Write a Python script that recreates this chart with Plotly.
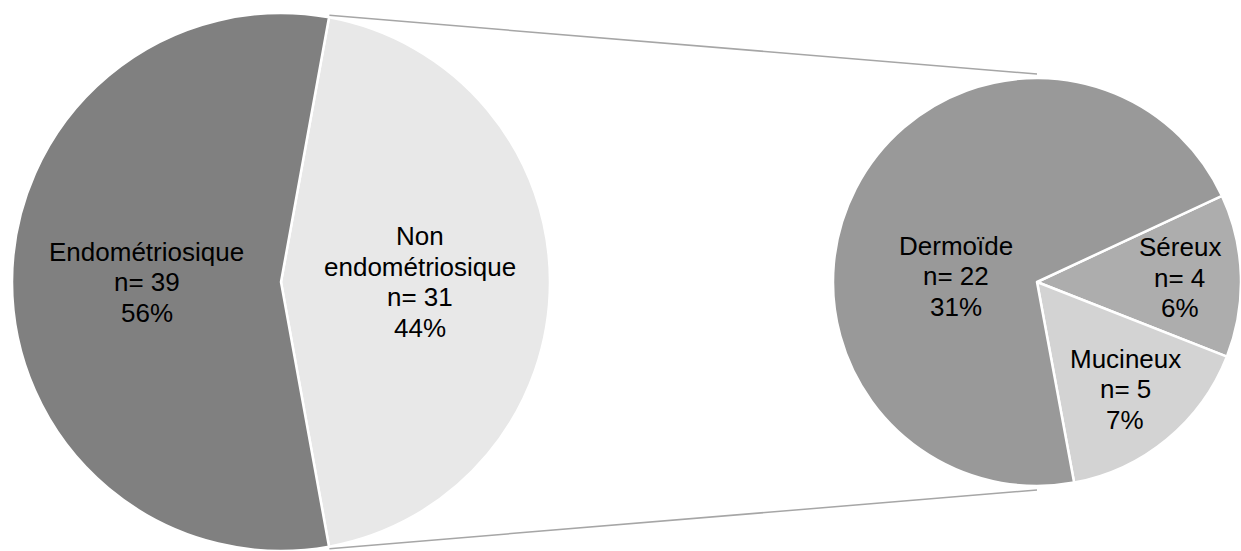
import math
import plotly.graph_objects as go

# ---------------- data ----------------
main_labels = ["Non endométriosique", "Endométriosique"]
main_text = [["Non", "endométriosique"], ["Endométriosique"]]
main_values = [31, 39]

sub_labels = ["Séreux", "Mucineux", "Dermoïde"]
sub_text = [["Séreux"], ["Mucineux"], ["Dermoïde"]]
sub_values = [4, 5, 22]

# ---------------- style ----------------
W, H = 1241, 551
main_colors = ["#e8e8e8", "#808080"]
sub_colors = ["#adadad", "#d3d3d3", "#999999"]
FONT = "Liberation Sans, Arial, sans-serif"
FSIZE = 26
LINE_H = 30.5

# pie geometry (pixels, from top-left)
L_CX, L_CY, L_R = 281, 282, 269
R_CX, R_CY, R_R = 1037, 282, 204

# label placement: radial fraction, optional angle override (deg clockwise from top)
main_label_r = [0.515, 0.50]
sub_label_r = [0.70, 0.68, 0.40]
sub_label_angle = [None, None, 274]

total = sum(main_values)
other_total = main_values[0]

# rotation: "other" slice centred on the right side
main_rot = 90 - 180 * main_values[0] / total
sub_rot = 65


def domain(cx, cy, r):
    return dict(x=[(cx - r) / W, (cx + r) / W],
                y=[(H - cy - r) / H, (H - cy + r) / H])


def pt(cx, cy, r, ang):
    a = math.radians(ang)
    return cx + r * math.sin(a), cy - r * math.cos(a)


def label_lines(x, y, lines):
    out = []
    n = len(lines)
    for i, s in enumerate(lines):
        yy = y + (i - (n - 1) / 2) * LINE_H
        out.append(dict(
            x=x / W, y=1 - yy / H, xref="paper", yref="paper", showarrow=False,
            xanchor="center", yanchor="middle", align="center", text=s,
            font=dict(family=FONT, size=FSIZE, color="black")))
    return out


fig = go.Figure()
fig.add_trace(go.Pie(
    labels=main_labels, values=main_values, sort=False, direction="clockwise",
    rotation=main_rot, domain=domain(L_CX, L_CY, L_R), textinfo="none",
    marker=dict(colors=main_colors, line=dict(color="white", width=2.5)),
    showlegend=False, hoverinfo="label+value+percent"))
fig.add_trace(go.Pie(
    labels=sub_labels, values=sub_values, sort=False, direction="clockwise",
    rotation=sub_rot, domain=domain(R_CX, R_CY, R_R), textinfo="none",
    marker=dict(colors=sub_colors, line=dict(color="white", width=2.5)),
    showlegend=False, hoverinfo="label+value"))

annotations = []
# main labels
start = main_rot
for i, v in enumerate(main_values):
    span = 360 * v / total
    mid = start + span / 2
    x, y = pt(L_CX, L_CY, L_R * main_label_r[i], mid)
    pct = round(100 * v / total)
    annotations += label_lines(x, y, main_text[i] + [f"n= {v}", f"{pct}%"])
    start += span

# sub labels
start = sub_rot
for i, v in enumerate(sub_values):
    span = 360 * v / other_total
    mid = start + span / 2 if sub_label_angle[i] is None else sub_label_angle[i]
    x, y = pt(R_CX, R_CY, R_R * sub_label_r[i], mid)
    pct = round(100 * v / total)
    annotations += label_lines(x, y, sub_text[i] + [f"n= {v}", f"{pct}%"])
    start += span

# connector lines from the "other" slice edges to top/bottom of second pie
other_span = 360 * main_values[0] / total
a_top = main_rot
a_bot = main_rot + other_span
x0, y0 = pt(L_CX, L_CY, L_R + 2, a_top)
x1, y1 = pt(R_CX, R_CY, R_R + 4, 0)
x2, y2 = pt(L_CX, L_CY, L_R + 2, a_bot)
x3, y3 = pt(R_CX, R_CY, R_R + 4, 180)
shapes = []
for (xa, ya, xb, yb) in [(x0, y0, x1, y1), (x2, y2, x3, y3)]:
    shapes.append(dict(type="line", xref="paper", yref="paper",
                       x0=xa / W, y0=1 - ya / H, x1=xb / W, y1=1 - yb / H,
                       line=dict(color="#a6a6a6", width=1.5)))

fig.update_layout(
    width=W, height=H, margin=dict(l=0, r=0, t=0, b=0),
    paper_bgcolor="white", plot_bgcolor="white",
    annotations=annotations, shapes=shapes,
    font=dict(family=FONT, size=FSIZE, color="black"))

fig.write_html("out.html")
